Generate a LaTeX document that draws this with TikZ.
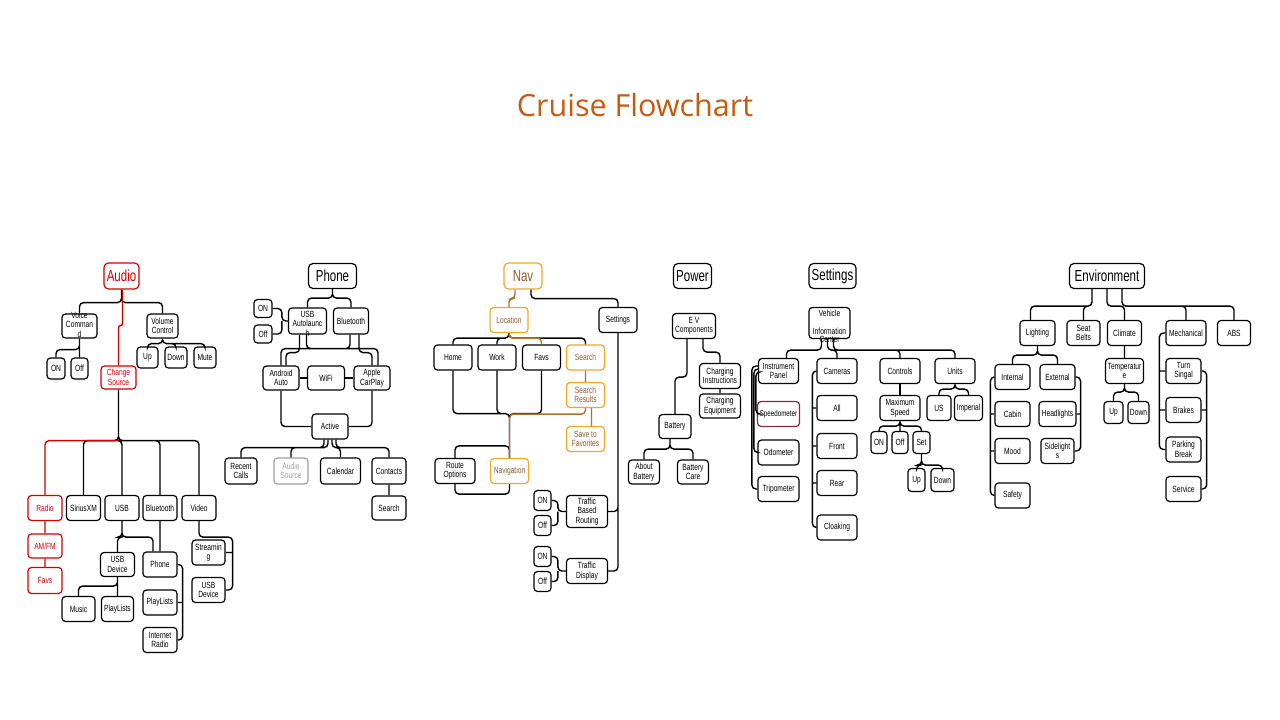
\documentclass[tikz,border=0pt]{standalone}
\usepackage{fontspec}
\usepackage{xcolor}
\usetikzlibrary{positioning}
\newfontfamily\boxfont[FakeStretch=0.74]{Liberation Sans}
\newfontfamily\headfont[FakeStretch=0.72]{Liberation Sans}
\newfontfamily\titlefont{Open Sans}
\definecolor{audiored}{HTML}{D40000}
\definecolor{navorange}{HTML}{F5A623}
\definecolor{navbrown}{HTML}{8B5A2B}
\definecolor{navline}{HTML}{B07030}
\definecolor{srcgrey}{HTML}{A0A0A0}
\definecolor{speedred}{HTML}{7B2D4B}
\definecolor{titleorange}{HTML}{C55A11}
\newcommand\spill[2][-2pt]{\raisebox{#1}[0pt][0pt]{\begin{tabular}{@{}c@{}}#2\end{tabular}}}

\begin{document}
\begin{tikzpicture}[x=1pt,y=-1pt,on grid,
 box/.style={draw,rounded corners=3.5pt,line width=1.2pt,inner sep=0pt,align=center,
   minimum width=34pt,minimum height=25pt,font=\boxfont\fontsize{9}{9.5}\selectfont},
 head/.style={box,rounded corners=4.5pt,font=\headfont\fontsize{16}{18}\selectfont},
 red box/.style={box,draw=audiored,text=audiored},
 orange box/.style={box,draw=navorange,text=navbrown},
 link/.style={line width=1.4pt,rounded corners=4pt}]
\useasboundingbox (0,0) rectangle (1280,720);

\node[font=\titlefont\fontsize{30.5}{36}\selectfont,text=titleorange,anchor=base] (title) at (635,116) {Cruise Flowchart};

\node[head,draw=audiored,text=audiored,minimum width=35pt,minimum height=26pt] (audio) at (121.5,276) {Audio};
\node[box,minimum width=35pt,minimum height=24pt,below left=50pt and 42pt of audio] (voicecmd) {\spill{Voice\\Comman\\d}};
\node[box,minimum width=31pt,minimum height=24pt,below right=50pt and 41pt of audio] (volctrl) {Volume\\Control};
\node[box,minimum width=18pt,minimum height=21pt,below left=42.5pt and 23.5pt of voicecmd] (vcon) {ON};
\node[box,minimum width=17pt,minimum height=21pt,right=23.5pt of vcon] (vcoff) {Off};
\node[box,minimum width=21pt,minimum height=21pt,below left=31.5pt and 15pt of volctrl] (volup) {Up};
\node[box,minimum width=22pt,minimum height=21pt,right=28.5pt of volup] (voldown) {Down};
\node[box,minimum width=22pt,minimum height=21pt,right=29pt of voldown] (volmute) {Mute};
\node[red box,minimum width=35pt,minimum height=23pt,below left=101.5pt and 3pt of audio] (chgsrc) {Change\\Source};
\node[red box,below left=130.5pt and 73.5pt of chgsrc] (radio) {Radio};
\node[box,right=38.5pt of radio] (siriusxm) {SiriusXM};
\node[box,right=38.5pt of siriusxm] (usb) {USB};
\node[box,right=38pt of usb] (bt) {Bluetooth};
\node[box,right=39pt of bt] (video) {Video};
\node[red box,minimum height=24pt,below=38pt of radio] (amfm) {AM/FM};
\node[red box,minimum height=26pt,below=34.5pt of amfm] (favs) {Favs};
\node[box,minimum height=24pt,below left=56.5pt and 4.5pt of usb] (usbdev) {USB\\Device};
\node[box,below=56.5pt of bt] (btphone) {Phone};
\node[box,minimum width=33pt,below left=44.5pt and 39pt of usbdev] (music) {Music};
\node[box,minimum width=32pt,right=39pt of music] (usbplay) {PlayLists};
\node[box,below=38pt of btphone] (btplay) {PlayLists};
\node[box,below=37.5pt of btplay] (inetradio) {Internet\\Radio};
\node[box,minimum width=33pt,below right=44.5pt and 9.5pt of video] (streaming) {Streamin\\g};
\node[box,minimum width=33pt,below=37.5pt of streaming] (usbdev2) {USB\\Device};

\node[head,minimum width=48pt] (phone) at (332.5,276) {Phone};
\node[box,minimum width=38pt,minimum height=26pt,below left=45pt and 25pt of phone] (usbauto) {\spill[-6pt]{USB\\Autolaunc\\h}};
\node[box,minimum width=35pt,minimum height=26pt,below right=45pt and 18.5pt of phone] (btph) {Bluetooth};
\node[box,minimum width=18pt,minimum height=18pt,above left=12.5pt and 44.5pt of usbauto] (phon) {ON};
\node[box,minimum width=18pt,minimum height=18pt,below=25.5pt of phon] (phoff) {Off};
\node[box,minimum width=36pt,minimum height=24pt,below left=57pt and 26.5pt of usbauto] (aauto) {Android\\Auto};
\node[box,minimum width=37pt,minimum height=24pt,right=45pt of aauto] (wifi) {WiFi};
\node[box,minimum width=36pt,minimum height=24pt,right=46pt of wifi] (carplay) {Apple\\CarPlay};
\node[box,minimum width=36pt,below right=48.5pt and 4pt of wifi] (active) {Active};
\node[box,minimum width=32pt,minimum height=26pt,below left=44.5pt and 89pt of active] (recent) {Recent\\Calls};
\node[box,minimum height=26pt,draw=srcgrey,text=srcgrey,right=50pt of recent] (audiosrc) {Audio\\Source};
\node[box,minimum width=40pt,minimum height=26pt,right=49.5pt of audiosrc] (calendar) {Calendar};
\node[box,minimum width=34pt,minimum height=26pt,right=48.5pt of calendar] (contacts) {Contacts};
\node[box,minimum width=34pt,minimum height=24pt,below=37pt of contacts] (phsearch) {Search};

\node[head,draw=navorange,text=navbrown,minimum width=38pt,minimum height=26pt] (nav) at (523,276) {Nav};
\node[orange box,minimum width=38pt,below left=44pt and 14pt of nav] (location) {Location};
\node[box,minimum width=38pt,below right=44pt and 95pt of nav] (navset) {Settings};
\node[box,minimum width=38pt,below left=37.5pt and 56pt of location] (home) {Home};
\node[box,minimum width=38pt,right=44pt of home] (work) {Work};
\node[box,minimum width=38pt,right=44.5pt of work] (navfavs) {Favs};
\node[orange box,minimum width=38pt,right=44pt of navfavs] (navsearch) {Search};
\node[orange box,minimum width=38pt,below=37.5pt of navsearch] (results) {Search\\Results};
\node[orange box,minimum width=38pt,below=44pt of results] (savefav) {Save to\\Favorites};
\node[box,minimum width=40pt,below left=151pt and 54pt of location] (routeopt) {Route\\Options};
\node[orange box,minimum width=38pt,right=54.5pt of routeopt] (navigation) {Navigation};
\node[box,minimum width=41pt,minimum height=32pt,below left=191.5pt and 31pt of navset] (tbr) {Traffic\\Based\\Routing};
\node[box,minimum width=41pt,below=59.5pt of tbr] (tdisp) {Traffic\\Display};
\node[box,minimum width=17pt,minimum height=20pt,above left=11pt and 44.5pt of tbr] (tbron) {ON};
\node[box,minimum width=17pt,minimum height=20pt,below=25pt of tbron] (tbroff) {Off};
\node[box,minimum width=17pt,minimum height=20pt,above left=14.5pt and 44.5pt of tdisp] (tdon) {ON};
\node[box,minimum width=17pt,minimum height=20pt,below=25pt of tdon] (tdoff) {Off};

\node[head,minimum width=38pt] (power) at (692.5,276) {Power};
\node[box,minimum width=43pt,below right=50pt and 1.5pt of power] (evcomp) {E V\\Components};
\node[box,minimum width=41pt,below right=50pt and 26pt of evcomp] (chginst) {Charging\\Instructions};
\node[box,minimum width=41pt,minimum height=24pt,below=30pt of chginst] (chgequip) {Charging\\Equipment};
\node[box,minimum width=32pt,minimum height=24pt,below left=100.5pt and 19pt of evcomp] (battery) {Battery};
\node[box,minimum width=31pt,minimum height=24pt,below left=45.5pt and 31pt of battery] (aboutbat) {About\\Battery};
\node[box,minimum width=31pt,minimum height=24pt,right=49pt of aboutbat] (batcare) {Battery\\Care};

\node[head,minimum width=47pt] (settings) at (832.5,276) {Settings};
\node[box,minimum width=41pt,minimum height=31pt,below left=47pt and 3pt of settings] (vic) {\spill[-7pt]{Vehicle\\[8pt]Information\\[-1pt]Center}};
\node[box,minimum width=40pt,below left=48pt and 51pt of vic] (instpanel) {Instrument\\Panel};
\node[box,minimum width=40pt,right=58.5pt of instpanel] (cameras) {Cameras};
\node[box,minimum width=40pt,right=63pt of cameras] (controls) {Controls};
\node[box,minimum width=40pt,right=55pt of controls] (units) {Units};
\node[box,minimum width=42pt,draw=speedred,font=\boxfont\fontsize{8.4}{9.5}\selectfont,below=43pt of instpanel] (speedo) {Speedometer};
\node[box,minimum width=41pt,below=38.5pt of speedo] (odo) {Odometer};
\node[box,minimum width=41pt,below=36.5pt of odo] (tripo) {Tripometer};
\node[box,minimum width=40pt,below=37pt of cameras] (camall) {All};
\node[box,minimum width=40pt,below=38pt of camall] (front) {Front};
\node[box,minimum width=40pt,below=37pt of front] (rear) {Rear};
\node[box,minimum width=40pt,below=44.5pt of rear] (cloak) {Cloaking};
\node[box,minimum width=40pt,below=37pt of controls] (maxspeed) {Maximum\\Speed};
\node[box,minimum width=16pt,minimum height=22pt,below left=34.5pt and 21pt of maxspeed] (mson) {ON};
\node[box,minimum width=16pt,minimum height=22pt,right=21pt of mson] (msoff) {Off};
\node[box,minimum width=17pt,minimum height=22pt,right=21.5pt of msoff] (msset) {Set};
\node[box,minimum width=17pt,minimum height=23pt,below left=37.5pt and 5pt of msset] (setup) {Up};
\node[box,minimum width=23pt,minimum height=23pt,right=26pt of setup] (setdown) {Down};
\node[box,minimum width=24pt,below left=37pt and 16pt of units] (us) {US};
\node[box,minimum width=28pt,right=29.5pt of us] (imperial) {Imperial};

\node[head,minimum width=75pt] (env) at (1107,276) {Environment};
\node[box,minimum width=35pt,below left=57pt and 69.5pt of env] (lighting) {Lighting};
\node[box,minimum width=33pt,right=46pt of lighting] (seatbelts) {Seat\\Belts};
\node[box,minimum width=34pt,right=41pt of seatbelts] (climate) {Climate};
\node[box,minimum width=40pt,right=61.5pt of climate] (mech) {Mechanical};
\node[box,minimum width=33pt,right=48pt of mech] (abs) {ABS};
\node[box,minimum width=35pt,below left=44pt and 25pt of lighting] (internal) {Internal};
\node[box,minimum width=35pt,right=45pt of internal] (external) {External};
\node[box,minimum width=35pt,below=37pt of internal] (cabin) {Cabin};
\node[box,minimum width=37pt,below=37pt of external] (headlights) {Headlights};
\node[box,minimum width=35pt,below=37pt of cabin] (mood) {Mood};
\node[box,minimum width=33pt,below=37pt of headlights] (sidelights) {Sidelight\\s};
\node[box,minimum width=35pt,below=44.5pt of mood] (safety) {Safety};
\node[box,minimum width=38pt,below=38pt of climate] (temp) {Temperatur\\e};
\node[box,minimum width=19pt,minimum height=22pt,below left=41.5pt and 11pt of temp] (envup) {Up};
\node[box,minimum width=21pt,minimum height=22pt,right=25pt of envup] (envdown) {Down};
\node[box,minimum width=35pt,below left=38pt and 2.5pt of mech] (turnsig) {Turn\\Singal};
\node[box,minimum width=35pt,below=39pt of turnsig] (brakes) {Brakes};
\node[box,minimum width=35pt,below=39.5pt of brakes] (parking) {Parking\\Break};
\node[box,minimum width=35pt,below=39.5pt of parking] (service) {Service};

\draw[link] (audio.south) -- ++(0,13) -| (voicecmd.north) (audio.south) -- ++(0,13) -| (volctrl.north);
\draw[link,audiored,rounded corners=2pt] ([xshift=1pt]audio.south) -- ++(0,36) -| (chgsrc.north);
\draw[link] (voicecmd.south) -- ++(0,11) -| (vcon.north) (voicecmd.south) -- (vcoff.north);
\draw[link] (volctrl.south) -- ++(0,5) -| (volup.north) (volctrl.south) -- ++(0,5) -| (voldown.north) (volctrl.south) -- ++(0,5) -| (volmute.north);
\draw[link] (chgsrc.south) -- ++(0,51) -| (siriusxm.north) (chgsrc.south) -- ++(0,51) -| (usb.north) (chgsrc.south) -- ++(0,51) -| (bt.north) (chgsrc.south) -- ++(0,51) -| (video.north);
\draw[link,audiored] ([yshift=-51pt]chgsrc.south) -| (radio.north) (radio) -- (amfm) -- (favs);
\draw[link] (usb.south) -- ++(0,16) -| (usbdev.north) (usb.south) -- ++(0,16) -| ([xshift=-7pt]btphone.north) (bt) -- (btphone);
\draw[link] (usbdev.south) -- ++(0,9) -| (music.north) (usbdev.south) -- (usbplay.north);
\draw[link] (btphone.east) -- ++(5,0) |- (inetradio.east) (btplay.east) -- ++(5,0);
\draw[link] (video.south) -- ++(0,16) -| ([xshift=7pt]usbdev2.east) -- (usbdev2.east) (streaming.east) -- ++(7,0);

\draw[link] (phone.south) -- ++(0,9) -| (usbauto.north) (phone.south) -- ++(0,9) -| (btph.north);
\draw[link] (phon.east) -| ([xshift=-6pt]usbauto.west) -- (usbauto.west) (phoff.east) -| ([xshift=-6pt]usbauto.west);
\draw[link] ([xshift=-8pt]usbauto.south) -- ++(0,18) -| ([xshift=5pt]aauto.north) ([xshift=-1pt]usbauto.south) -- ++(0,14) -| ([xshift=6pt]carplay.north)
 ([xshift=-1pt]btph.south) -- ++(0,14) -| (aauto.north) ([xshift=8pt]btph.south) -- ++(0,18) -| (carplay.north);
\draw[link] (aauto) -- (wifi) -- (carplay);
\draw[link] (aauto.south) |- (active.west) (carplay.south) |- (active.east);
\draw[link] ([xshift=-6pt]active.south) -- ++(0,8) -| (recent.north) ([xshift=-2pt]active.south) -- ++(0,8) -| (audiosrc.north)
 ([xshift=2pt]active.south) -- ++(0,8) -| (calendar.north) ([xshift=6pt]active.south) -- ++(0,8) -| (contacts.north) (contacts) -- (phsearch);

\draw[link,navline] ([xshift=-8pt]nav.south) -- ++(0,9) -| (location.north);
\draw[link] ([xshift=8pt]nav.south) -- ++(0,9) -| (navset.north);
\draw[link] (location.south) -- ++(0,5) -| (home.north) (location.south) -- ++(0,5) -| (work.north) (location.south) -- ++(0,5) -| (navsearch.north);
\draw[link,navline] (location.south) -- ++(0,5) -| (navfavs.north);
\draw[link] (home.south) -- ++(0,43) -| (navigation.north) (work.south) -- ++(0,43) -| (navigation.north) (navfavs.south) -- ++(0,43) -| (navigation.north);
\draw[link] (routeopt.north) -- ++(0,-12) -| (navigation.north) (routeopt.south) -- ++(0,10) -| (navigation.south);
\draw[link,navline] (results.south) -- ++(0,6) -| (navigation.north) (navsearch) -- (results) ([xshift=6pt]results.south) -- ([xshift=6pt]savefav.north);
\draw[link] (navset.south) |- (tbr.east) (navset.south) |- (tdisp.east);
\draw[link] (tbron.east) -| ([xshift=-8pt]tbr.west) -- (tbr.west) (tbroff.east) -| ([xshift=-8pt]tbr.west)
 (tdon.east) -| ([xshift=-8pt]tdisp.west) -- (tdisp.west) (tdoff.east) -| ([xshift=-8pt]tdisp.west);

\draw[link] ([xshift=-7pt]evcomp.south) -- ++(0,38) -| (battery.north) ([xshift=9pt]evcomp.south) -- ++(0,13) -| (chginst.north) (chginst) -- (chgequip);
\draw[link] ([xshift=-5pt]battery.south) -- ++(0,10) -| (aboutbat.north) ([xshift=-5pt]battery.south) -- ++(0,10) -| (batcare.north);

\draw[link] ([xshift=-8pt]vic.south) -- ++(0,11) -| ([xshift=8pt]instpanel.north) ([xshift=-2pt]vic.south) -- ++(0,11) -| (cameras.north)
 ([xshift=4pt]vic.south) -- ++(0,11) -| (controls.north) ([xshift=4pt]vic.south) -- ++(0,11) -| (units.north);
\draw[link] ([yshift=5pt]instpanel.west) -- ++(-6,0) |- (tripo.west) ([yshift=2pt]instpanel.west) -- ++(-4,0) |- (odo.west) ([yshift=-1pt]instpanel.west) -- ++(-2,0) |- (speedo.west);
\draw[link] (cameras.west) -- ++(-4,0) |- (cloak.west) (camall.west) -- ++(-4,0) (front.west) -- ++(-4,0) (rear.west) -- ++(-4,0);
\draw[link] (controls) -- (maxspeed);
\draw[link] (maxspeed.south) -- ++(0,5) -| (mson.north) (maxspeed.south) -- ++(0,5) -| (msoff.north) (maxspeed.south) -- ++(0,5) -| (msset.north);
\draw[link] (msset.south) -- ++(0,11) -| (setup.north) (msset.south) -- ++(0,11) -| (setdown.north);
\draw[link] (units.south) -- ++(0,5) -| (us.north) (units.south) -- ++(0,5) -| (imperial.north);

\draw[link] ([xshift=-15pt]env.south) -- ++(0,17) -| ([xshift=-7pt]lighting.north) ([xshift=-15pt]env.south) -- ++(0,17) -| (seatbelts.north)
 (env.south) -- ++(0,17) -| (climate.north) ([xshift=15pt]env.south) -- ++(0,17) -| (mech.north) ([xshift=15pt]env.south) -- ++(0,17) -| (abs.north);
\draw[link] (lighting.south) -- ++(0,9) -| (internal.north) (lighting.south) -- ++(0,9) -| (external.north);
\draw[link] (internal.west) -- ++(-4,0) |- (safety.west) (cabin.west) -- ++(-4,0) (mood.west) -- ++(-4,0);
\draw[link] (external.east) -- ++(5,0) |- (sidelights.east) (headlights.east) -- ++(4,0);
\draw[link] (climate) -- (temp) (temp.south) -- ++(0,8) -| (envup.north) (temp.south) -- ++(0,8) -| (envdown.north);
\draw[link] (mech.west) -- ++(-6,0) |- (parking.west) (turnsig.west) -- ++(-6,0) (brakes.west) -- ++(-6,0);
\draw[link] (turnsig.east) -- ++(5,0) |- (service.east) (brakes.east) -- ++(5,0);
\end{tikzpicture}
\end{document}
